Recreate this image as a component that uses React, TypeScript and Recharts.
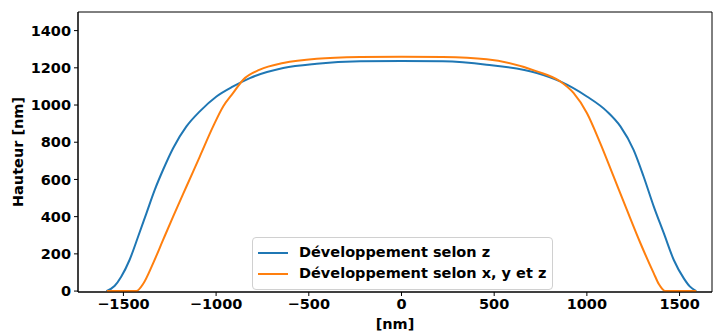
import { LineChart, Line, XAxis, YAxis, Legend, ReferenceArea } from 'recharts'

// profil mesuré, x en nm
const zX = [-1592, -1548, -1512, -1467, -1421, -1376, -1331, -1286, -1232, -1160, -1088, -998, -908, -818, -638, -457, -223, 0, 223, 459, 730, 856, 1000, 1108, 1181, 1252, 1306, 1361, 1415, 1469, 1523, 1555, 1590]
const zH = [0, 27, 77, 167, 292, 418, 544, 652, 768, 885, 966, 1046, 1100, 1145, 1199, 1222, 1235, 1237, 1235, 1217, 1172, 1127, 1046, 966, 885, 759, 616, 454, 311, 167, 68, 25, 0]

const xyzX = [-1590, -1430, -1394, -1340, -1286, -1232, -1160, -1088, -1016, -962, -908, -854, -764, -638, -457, -223, 0, 223, 459, 730, 856, 928, 1000, 1072, 1144, 1216, 1289, 1361, 1388, 1424, 1590]
const xyzH = [0, 0, 38, 149, 275, 400, 562, 723, 885, 992, 1065, 1136, 1190, 1226, 1249, 1258, 1260, 1258, 1246, 1181, 1127, 1065, 957, 795, 616, 436, 257, 95, 38, 0, 0]

const seriesNames = ['Développement selon z', 'Développement selon x, y et z']
const xTicks = [-1500, -1000, -500, 0, 500, 1000, 1500]
const yTicks = [0, 200, 400, 600, 800, 1000, 1200, 1400]

const zData = zX.map((x, i) => ({ x, h: zH[i] }))
const xyzData = xyzX.map((x, i) => ({ x, h: xyzH[i] }))

const font = '"DejaVu Sans", sans-serif'
const tickStyle = { fontSize: 14.5, fontWeight: 'bold', fill: '#000', fontFamily: font }
const fmt = (v: number) => (v < 0 ? '\u2212' + Math.abs(v) : String(v))

function LegendBox({ payload }: any) {
  const items = [...(payload || [])].sort((a: any, b: any) => seriesNames.indexOf(a.value) - seriesNames.indexOf(b.value))
  return (
    <div
      style={{
        background: 'rgba(255,255,255,0.8)',
        border: '1px solid #d0d0d0',
        borderRadius: 4,
        padding: '4px 6px 4px 5px',
        fontFamily: font,
        fontSize: 14.5,
        fontWeight: 'bold',
        color: '#000',
        lineHeight: '21.4px',
      }}
    >
      {items.map((p: any) => (
        <div key={p.value} style={{ display: 'flex', alignItems: 'center', whiteSpace: 'nowrap' }}>
          <span style={{ display: 'inline-block', width: 30, height: 2, background: p.color, marginRight: 11 }} />
          {p.value}
        </div>
      ))}
    </div>
  )
}

export default function App() {
  return (
    <div style={{ position: 'absolute', left: 0, top: 0 }}>
      <LineChart width={713} height={332} margin={{ top: 12, right: 1, left: 0, bottom: 0 }}>
        <XAxis
          type="number"
          dataKey="x"
          domain={[-1745, 1675]}
          ticks={xTicks}
          tickFormatter={fmt}
          tick={tickStyle}
          tickSize={4}
          tickMargin={3}
          height={40}
          stroke="#000"
          allowDataOverflow
          label={{ value: '[nm]', position: 'insideBottom', offset: 3, style: { ...tickStyle } }}
        />
        <YAxis
          type="number"
          dataKey="h"
          domain={[-5, 1500]}
          ticks={yTicks}
          tick={tickStyle}
          tickSize={4}
          tickMargin={3}
          width={78}
          stroke="#000"
          allowDataOverflow
          label={{ value: 'Hauteur [nm]', angle: -90, position: 'center', dx: -21, style: { ...tickStyle } }}
        />
        <ReferenceArea x1={-1745} x2={1675} y1={-5} y2={1500} fill="none" stroke="#000" strokeOpacity={1} />
        <Line data={zData} dataKey="h" name={seriesNames[0]} type="monotone" stroke="#1f77b4" strokeWidth={2} dot={false} isAnimationActive={false} />
        <Line data={xyzData} dataKey="h" name={seriesNames[1]} type="monotone" stroke="#ff7f0e" strokeWidth={2} dot={false} isAnimationActive={false} />
        <Legend
          layout="vertical"
          align="center"
          verticalAlign="middle"
          content={LegendBox}
          wrapperStyle={{ position: 'absolute', left: 252, top: 237, width: 'auto' }}
        />
      </LineChart>
    </div>
  )
}
